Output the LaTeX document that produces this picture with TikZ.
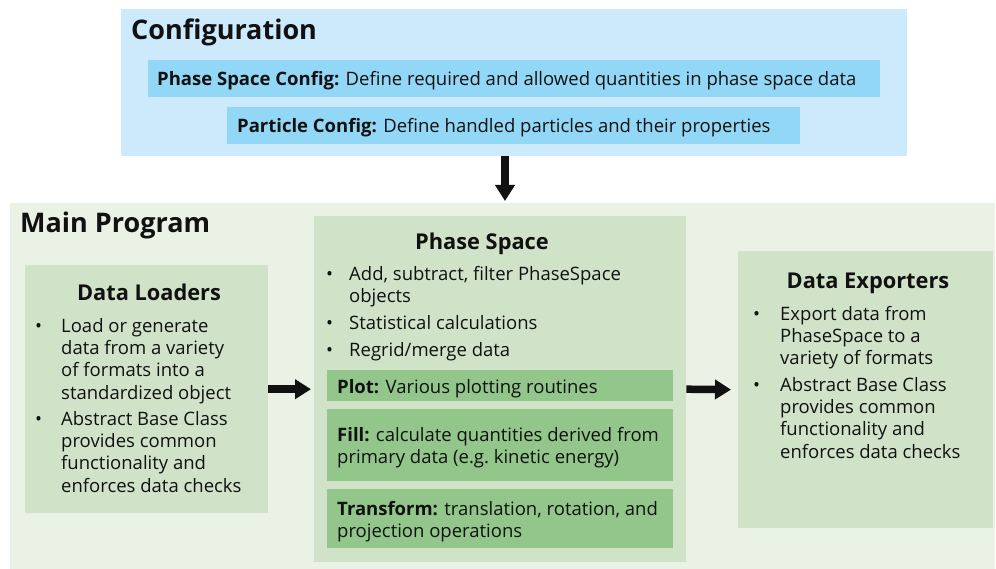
\documentclass[tikz,border=0pt]{standalone}
\usepackage{fontspec}
\setmainfont{Open Sans}
\usetikzlibrary{arrows.meta}

\definecolor{cfgbg}{HTML}{CCEAFB}
\definecolor{cfgbar}{HTML}{93D7F6}
\definecolor{mainbg}{HTML}{E9F2E5}
\definecolor{modbg}{HTML}{D0E3C9}
\definecolor{modbar}{HTML}{92C68A}
\definecolor{ink}{HTML}{111111}

% bullet item: bullet in a box of width #1, then the wrapped lines
\newcommand{\bitem}[2][26pt]{\makebox[#1][l]{\textbullet}\parbox[t]{280pt}{\raggedright #2}}

\tikzset{
  panel/.style={fill=#1, draw=none, inner sep=0pt, anchor=north west},
  body/.style={font=\fontsize{18.5}{22.2}\selectfont, text=ink, inner sep=0pt, anchor=base west},
  bigtitle/.style={font=\fontsize{27}{31}\selectfont\bfseries, text=ink, inner sep=0pt, anchor=base west},
  modtitle/.style={font=\fontsize{21.8}{26}\selectfont\bfseries, text=ink, inner sep=0pt, anchor=base},
  flow/.style={line width=7.5pt, -{Triangle[width=19pt,length=16pt]}, ink},
}

\begin{document}
\begin{tikzpicture}[x=1pt, y=-1pt]
\useasboundingbox (0,0) rectangle (996,569);

% ---------- configuration ----------
\node[panel=cfgbg, minimum width=786pt, minimum height=147pt] (cfg) at (121,9) {};
\node[bigtitle] (cfgT) at (131,40) {Configuration};
\node[panel=cfgbar, minimum width=732pt, minimum height=37pt] (pscBar) at (148,60) {};
\node[body] (pscT) at (157,86) {\textbf{Phase Space Config:} Define required and allowed quantities in phase space data};
\node[panel=cfgbar, minimum width=573pt, minimum height=37pt] (pcBar) at (227,107) {};
\node[body] (pcT) at (237,133) {\textbf{Particle Config:} Define handled particles and their properties};

% ---------- main program ----------
\node[panel=mainbg, minimum width=985pt, minimum height=366pt] (main) at (10,203) {};
\node[bigtitle] (mainT) at (20,233) {Main Program};

% data loaders
\node[panel=modbg, minimum width=243pt, minimum height=248pt] (dl) at (25,265) {};
\node[modtitle] (dlT) at (149,301) {Data Loaders};
\node[body] (dl1) at (35,332.5) {\bitem{Load or generate\\data from a variety\\of formats into a\\standardized object}};
\node[body] (dl2) at (35,425.5) {\bitem{Abstract Base Class\\provides common\\functionality and\\enforces data checks}};

% phase space
\node[panel=modbg, minimum width=372pt, minimum height=346pt] (ps) at (314,216) {};
\node[modtitle] (psT) at (482,250) {Phase Space};
\node[body] (ps1) at (326,280.5) {\bitem[23pt]{Add, subtract, filter PhaseSpace\\objects}};
\node[body] (ps2) at (326,329.5) {\bitem[23pt]{Statistical calculations}};
\node[body] (ps3) at (326,356.5) {\bitem[23pt]{Regrid/merge data}};
\node[panel=modbar, minimum width=346pt, minimum height=31pt] (plotBar) at (327,370) {};
\node[body] (plotT) at (337,393) {\textbf{Plot:} Various plotting routines};
\node[panel=modbar, minimum width=346pt, minimum height=72pt] (fillBar) at (327,409) {};
\node[body] (fillT) at (337,441.5) {\parbox[t]{340pt}{\raggedright\textbf{Fill:} calculate quantities derived from\\primary data (e.g.\ kinetic energy)}};
\node[panel=modbar, minimum width=346pt, minimum height=59pt] (trBar) at (327,489) {};
\node[body] (trT) at (337,515.5) {\parbox[t]{340pt}{\raggedright\textbf{Transform:} translation, rotation, and\\projection operations}};

% data exporters
\node[panel=modbg, minimum width=255pt, minimum height=277pt] (de) at (738,251) {};
\node[modtitle] (deT) at (868,289) {Data Exporters};
\node[body] (de1) at (753,320.5) {\bitem[27pt]{Export data from\\PhaseSpace to a\\variety of formats}};
\node[body] (de2) at (753,391.5) {\bitem[27pt]{Abstract Base Class\\provides common\\functionality and\\enforces data checks}};

% ---------- flow arrows ----------
\coordinate (downTop) at (505,156);
\coordinate (downEnd) at (505,201);
\draw[flow] (downTop) -- (downEnd);
\draw[flow, shorten >=3pt] (dl.east) -- (ps.west);
\draw[flow, shorten >=7pt] (ps.east) -- (de.west);
\end{tikzpicture}
\end{document}
